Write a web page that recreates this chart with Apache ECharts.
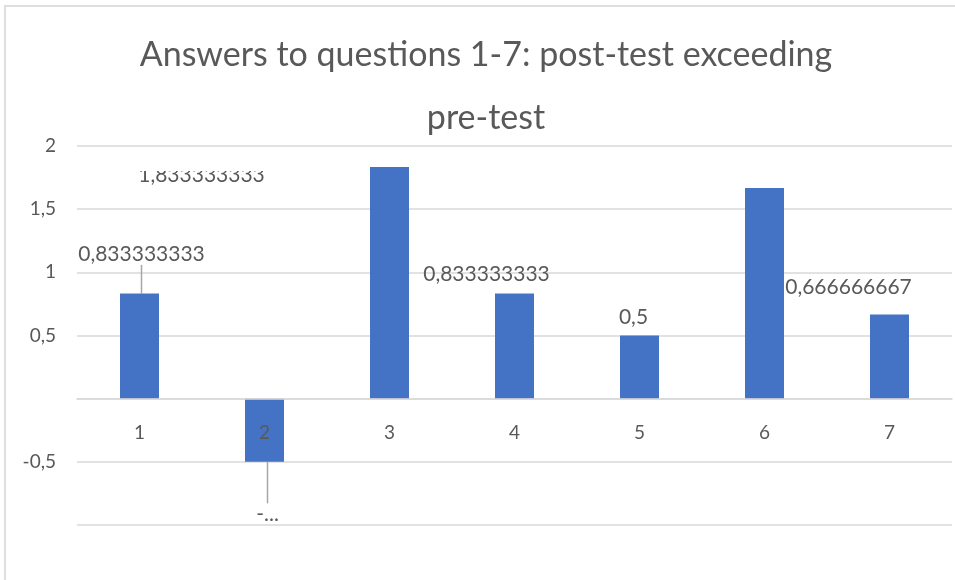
<!DOCTYPE html>
<html>
<head>
<meta charset="utf-8">
<script src="https://cdn.jsdelivr.net/npm/echarts@6/dist/echarts.min.js"></script>
<style>
  html, body { margin: 0; padding: 0; background: #fff; overflow: hidden; }
  .frame { position: absolute; left: 4px; top: 5px; width: 1200px; height: 1200px; border: 2px solid #dedede; }
  #chart { position: absolute; left: 0; top: 0; width: 955px; height: 580px; }
</style>
</head>
<body>
<div class="frame"></div>
<div id="chart"></div>
<script>
// questions on x axis
const questions = ['1', '2', '3', '4', '5', '6', '7'];
// post-test minus pre-test
const diffValues = [0.833333333, -0.5, 1.833333333, 0.833333333, 0.5, 1.666666667, 0.666666667];
// y tick range
const yMin = -1;
const yMax = 2;
const yStep = 0.5;

// label nudges (px), like the hand-moved labels in the original
const labelShift = [[2, -29], [3, 42], [-188, 18], [-28, -9], [-6, -8], [0, 0], [-41, -17]];

const textColor = '#595959';
const gridColor = '#d9d9d9';
const plotHeight = 379;

const chart = echarts.init(document.getElementById('chart'));

const seriesData = diffValues.map((v, i) => {
  const item = { value: v };
  if (i === 0 || i === 1) {
    item.labelLine = { show: true, lineStyle: { color: '#a6a6a6', width: 1.5 } };
  }
  if (v < 0) {
    // excel cut this one off
    item.label = { position: 'bottom', formatter: '-...' };
  }
  if (i === 5) {
    item.label = { show: false };
  }
  return item;
});

chart.setOption({
  animation: false,
  textStyle: { fontFamily: 'Lato' },
  title: {
    text: 'Answers to questions 1-7: post-test exceeding\npre-test',
    left: 486,
    top: 24,
    padding: 0,
    textAlign: 'center',
    textStyle: {
      fontFamily: 'Lato',
      fontWeight: 'normal',
      fontSize: 34,
      lineHeight: 63,
      color: textColor
    }
  },
  // top of the 1,83 label is hidden in the original
  graphic: [{
    type: 'rect',
    z: 100,
    shape: { x: 130, y: 150, width: 145, height: 21 },
    style: { fill: '#fff' },
    silent: true
  }],
  grid: {
    left: 77,
    right: 3,
    top: 146,
    bottom: 55
  },
  xAxis: {
    type: 'category',
    data: questions,
    z: 5,
    // sit the axis on the zero line (0 is 1/3 of the way up)
    offset: -Math.round(plotHeight * (0 - yMin) / (yMax - yMin)),
    axisLine: { onZero: false, lineStyle: { color: gridColor, width: 1.5 } },
    axisTick: { show: false },
    axisLabel: { color: textColor, fontSize: 19, margin: 24 },
    splitLine: { show: false }
  },
  yAxis: {
    type: 'value',
    min: yMin,
    max: yMax,
    interval: yStep,
    axisLine: { show: false },
    axisTick: { show: false },
    axisLabel: {
      color: textColor,
      fontSize: 19,
      margin: 21,
      formatter: (v) => (v === 0 || v === yMin ? '' : String(v).replace('.', ','))
    },
    splitLine: { lineStyle: { color: gridColor, width: 1.5 } }
  },
  series: [{
    type: 'bar',
    data: seriesData,
    barWidth: 39,
    itemStyle: { color: '#4472c4' },
    label: {
      show: true,
      position: 'top',
      distance: 0,
      color: textColor,
      fontSize: 21,
      lineHeight: 20,
      formatter: (p) => String(p.value).replace('.', ',')
    },
    labelLine: { show: false },
    labelLayout: (params) => {
      const s = labelShift[params.dataIndex];
      return { dx: s[0], dy: s[1] };
    }
  }]
});
</script>
</body>
</html>
